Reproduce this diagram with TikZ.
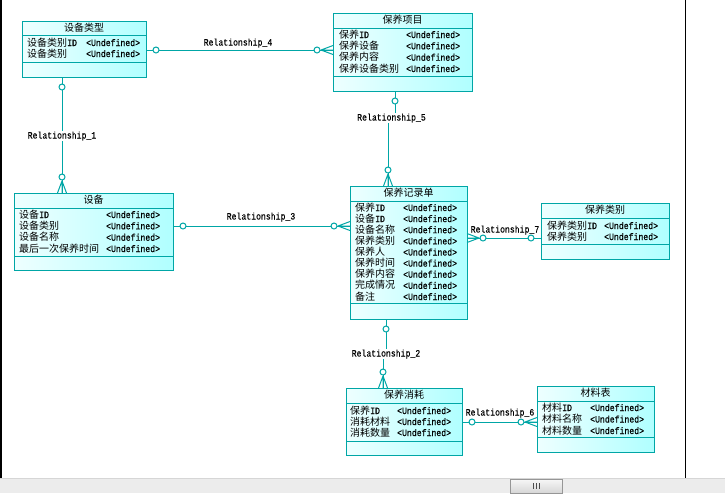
\documentclass[tikz,border=0pt]{standalone}
\usepackage{fontspec}
\setmainfont{Noto Sans CJK SC}
\newfontfamily\cjk{Noto Sans CJK SC}
\newfontfamily\latmono{Liberation Mono}[FakeStretch=0.85,FakeBold=0.4]
\usetikzlibrary{calc}
\definecolor{entborder}{RGB}{0,166,166}
\definecolor{entA}{RGB}{238,255,255}
\definecolor{entB}{RGB}{176,255,255}
\definecolor{barbg}{RGB}{236,236,236}
\definecolor{barline}{RGB}{214,214,214}
\definecolor{thumbA}{RGB}{246,246,246}
\definecolor{thumbB}{RGB}{214,214,214}
\definecolor{thumbline}{RGB}{150,150,150}
\newcommand\mylat[1]{{\latmono\fontsize{9.6pt}{11pt}\selectfont #1}}
\newcommand\ent[8]{%
  \node[entbox, minimum width=#4, minimum height=#5, anchor=north west] (#1) at (#2,#3) {};
  \draw[entline] ($(#1.north west)+(0,#6)$) -- ($(#1.north east)+(0,#6)$);
  \draw[entline] ($(#1.north west)+(0,#7)$) -- ($(#1.north east)+(0,#7)$);
  \node[txt] (#1t) at ($(#1.north)+(0,#6/2)$) {#8};
}
\newcommand\crowend[3]{%
  \draw[rel] ($(#1)+(12*#2,12*#3)$) -- ($(#1)+(-4.5*#3,4.5*#2)$)
             ($(#1)+(12*#2,12*#3)$) -- (#1)
             ($(#1)+(12*#2,12*#3)$) -- ($(#1)+(4.5*#3,-4.5*#2)$);
  \draw[rel,fill=white] ($(#1)+(16*#2,16*#3)$) circle[radius=3pt];
}
\newcommand\oneend[3]{%
  \draw[rel,fill=white] ($(#1)+(10*#2,10*#3)$) circle[radius=3pt];
}
\begin{document}
\begin{tikzpicture}[x=1pt,y=-1pt,
  entbox/.style={draw=entborder, line width=1pt, left color=entA, right color=entB, inner sep=0pt, outer sep=0pt},
  entline/.style={draw=entborder, line width=1pt},
  rel/.style={draw=entborder, line width=1pt},
  txt/.style={font=\cjk\fontsize{10pt}{12pt}\selectfont, inner sep=0pt, text height=8pt, text depth=2pt},
  attr/.style={txt, anchor=west},
  lab/.style={font=\latmono\fontsize{9.6pt}{11pt}\selectfont, fill=white, inner sep=0.6pt, text height=7pt, text depth=2pt}]
\useasboundingbox (0,0) rectangle (725,493);
\fill[white] (0,0) rectangle (725,493);

% window frame
\draw[black, line width=1.5pt] (1,0) -- (1,478);
\draw[black, line width=1.5pt] (685.5,0) -- (685.5,478);
\fill[barbg] (0,478) rectangle (725,493);
\draw[barline, line width=1pt] (0,478.5) -- (725,478.5);
\shade[top color=thumbA, bottom color=thumbB, draw=thumbline, line width=0.8pt] (510.5,479.5) rectangle (562,493);
\draw[black!70, line width=0.8pt] (533,483) -- (533,489) (536,483) -- (536,489) (539,483) -- (539,489);

% entities
\ent{e1}{22}{21}{124}{56}{14}{41}{设备类型}
\node[attr] (e1n1) at (27,43) {设备类别\mylat{ID}};
\node[attr] (e1t1) at (86,43) {\mylat{<Undefined>}};
\node[attr] (e1n2) at (27,54) {设备类别};
\node[attr] (e1t2) at (86,54) {\mylat{<Undefined>}};

\ent{e2}{333}{13}{139}{78}{15}{63}{保养项目}
\node[attr] (e2n1) at (339,35) {保养\mylat{ID}};
\node[attr] (e2t1) at (406,35) {\mylat{<Undefined>}};
\node[attr] (e2n2) at (339,46.3) {保养设备};
\node[attr] (e2t2) at (406,46.3) {\mylat{<Undefined>}};
\node[attr] (e2n3) at (339,57.7) {保养内容};
\node[attr] (e2t3) at (406,57.7) {\mylat{<Undefined>}};
\node[attr] (e2n4) at (339,69) {保养设备类别};
\node[attr] (e2t4) at (406,69) {\mylat{<Undefined>}};

\ent{e3}{14}{193}{159}{77}{15}{63}{设备}
\node[attr] (e3n1) at (19,215) {设备\mylat{ID}};
\node[attr] (e3t1) at (106,215) {\mylat{<Undefined>}};
\node[attr] (e3n2) at (19,226.3) {设备类别};
\node[attr] (e3t2) at (106,226.3) {\mylat{<Undefined>}};
\node[attr] (e3n3) at (19,237.7) {设备名称};
\node[attr] (e3t3) at (106,237.7) {\mylat{<Undefined>}};
\node[attr] (e3n4) at (19,249) {最后一次保养时间};
\node[attr] (e3t4) at (106,249) {\mylat{<Undefined>}};

\ent{e4}{350}{186}{117}{133}{15}{117}{保养记录单}
\node[attr] (e4n1) at (355,208) {保养\mylat{ID}};
\node[attr] (e4t1) at (403,208) {\mylat{<Undefined>}};
\node[attr] (e4n2) at (355,219.1) {设备\mylat{ID}};
\node[attr] (e4t2) at (403,219.1) {\mylat{<Undefined>}};
\node[attr] (e4n3) at (355,230.2) {设备名称};
\node[attr] (e4t3) at (403,230.2) {\mylat{<Undefined>}};
\node[attr] (e4n4) at (355,241.4) {保养类别};
\node[attr] (e4t4) at (403,241.4) {\mylat{<Undefined>}};
\node[attr] (e4n5) at (355,252.5) {保养人};
\node[attr] (e4t5) at (403,252.5) {\mylat{<Undefined>}};
\node[attr] (e4n6) at (355,263.6) {保养时间};
\node[attr] (e4t6) at (403,263.6) {\mylat{<Undefined>}};
\node[attr] (e4n7) at (355,274.7) {保养内容};
\node[attr] (e4t7) at (403,274.7) {\mylat{<Undefined>}};
\node[attr] (e4n8) at (355,285.9) {完成情况};
\node[attr] (e4t8) at (403,285.9) {\mylat{<Undefined>}};
\node[attr] (e4n9) at (355,297) {备注};
\node[attr] (e4t9) at (403,297) {\mylat{<Undefined>}};

\ent{e5}{541}{203}{128}{56}{15}{41}{保养类别}
\node[attr] (e5n1) at (547,226) {保养类别\mylat{ID}};
\node[attr] (e5t1) at (604,226) {\mylat{<Undefined>}};
\node[attr] (e5n2) at (547,237) {保养类别};
\node[attr] (e5t2) at (604,237) {\mylat{<Undefined>}};

\ent{e6}{346}{388}{116}{67}{15}{53}{保养消耗}
\node[attr] (e6n1) at (350,411) {保养\mylat{ID}};
\node[attr] (e6t1) at (397,411) {\mylat{<Undefined>}};
\node[attr] (e6n2) at (350,422) {消耗材料};
\node[attr] (e6t2) at (397,422) {\mylat{<Undefined>}};
\node[attr] (e6n3) at (350,433) {消耗数量};
\node[attr] (e6t3) at (397,433) {\mylat{<Undefined>}};

\ent{e7}{537}{386}{117}{66}{15}{51}{材料表}
\node[attr] (e7n1) at (542,408) {材料\mylat{ID}};
\node[attr] (e7t1) at (590,408) {\mylat{<Undefined>}};
\node[attr] (e7n2) at (542,419.5) {材料名称};
\node[attr] (e7t2) at (590,419.5) {\mylat{<Undefined>}};
\node[attr] (e7n3) at (542,431) {材料数量};
\node[attr] (e7t3) at (590,431) {\mylat{<Undefined>}};

% connector end points
\coordinate (r4a) at (e1.east |- 0,50);
\coordinate (r4b) at (e2.west |- 0,50);
\coordinate (r1a) at (62,0 |- e1.south);
\coordinate (r1b) at (62,0 |- e3.north);
\coordinate (r3a) at (e3.east |- 0,226);
\coordinate (r3b) at (e4.west |- 0,226);
\coordinate (r5a) at (395,0 |- e2.south);
\coordinate (r5b) at (388,0 |- e4.north);
\coordinate (r2a) at (386,0 |- e4.south);
\coordinate (r2b) at (383,0 |- e6.north);
\coordinate (r7a) at (e4.east |- 0,238);
\coordinate (r7b) at (e5.west |- 0,238);
\coordinate (r6a) at (e6.east |- 0,422);
\coordinate (r6b) at (e7.west |- 0,422);

% connectors
\draw[rel] (r4a) -- (r4b);
\draw[rel] (r1a) -- (r1b);
\draw[rel] (r3a) -- (r3b);
\draw[rel] (r5a) -- (r5a |- 0,118) -- (r5b |- 0,118) -- (r5b);
\draw[rel] (r2a) -- (r2a |- 0,354) -- (r2b |- 0,354) -- (r2b);
\draw[rel] (r7a) -- (r7b);
\draw[rel] (r6a) -- (r6b);

\oneend{r4a}{1}{0}   \crowend{r4b}{-1}{0}
\oneend{r1a}{0}{1}   \crowend{r1b}{0}{-1}
\oneend{r3a}{1}{0}   \crowend{r3b}{-1}{0}
\oneend{r5a}{0}{1}   \crowend{r5b}{0}{-1}
\oneend{r2a}{0}{1}   \crowend{r2b}{0}{-1}
\crowend{r7a}{1}{0}  \oneend{r7b}{-1}{0}
\oneend{r6a}{1}{0}   \crowend{r6b}{-1}{0}

% labels
\node[lab] (l4) at (238,43) {Relationship\_4};
\node[lab] (l1) at (62,136) {Relationship\_1};
\node[lab] (l3) at (261,217) {Relationship\_3};
\node[lab] (l5) at (391.5,118) {Relationship\_5};
\node[lab] (l2) at (386,354) {Relationship\_2};
\node[lab,fill=none] (l7) at (505,230) {Relationship\_7};
\node[lab,fill=none] (l6) at (500,413) {Relationship\_6};
\end{tikzpicture}
\end{document}
